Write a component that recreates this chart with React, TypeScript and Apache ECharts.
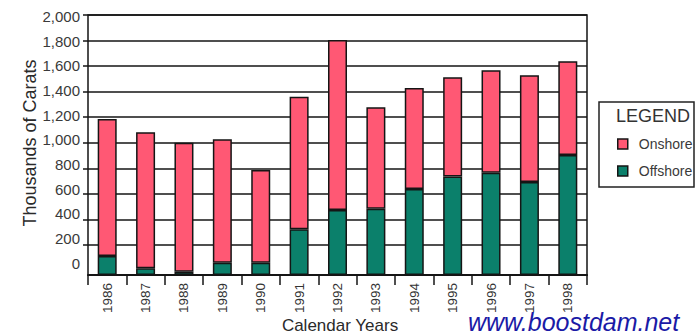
import React, { useEffect, useRef } from "react";
import * as echarts from "echarts";

const years = ["1986", "1987", "1988", "1989", "1990", "1991", "1992", "1993", "1994", "1995", "1996", "1997", "1998"];
const offshore = [149, 52, 26, 96, 96, 358, 509, 519, 673, 770, 801, 728, 939];
const onshore = [1072, 1065, 1010, 966, 726, 1038, 1330, 794, 791, 777, 801, 835, 734];
const yTickLabels = [0, 200, 400, 600, 800, 1000, 1200, 1400, 1600, 1800, 2000];

const SANS = "'Liberation Sans', Arial, sans-serif";
const PINK = "#ff5874";
const TEAL = "#0b806b";
const INK = "#151515";

export default function App() {
  const ref = useRef<HTMLDivElement>(null);

  useEffect(() => {
    if (!ref.current) return;
    const chart = echarts.init(ref.current, null, { renderer: "svg" });
    const step = yTickLabels[1] - yTickLabels[0];
    const yMax = yTickLabels[yTickLabels.length - 1];
    const gridX = { left: 88, right: 111 };

    chart.setOption({
      animation: false,
      backgroundColor: "#ffffff",
      grid: [
        // bars
        { ...gridX, top: 15, bottom: 60, show: true, borderColor: INK, borderWidth: 1.5, backgroundColor: "transparent" },
        // gridlines
        { ...gridX, top: 15, bottom: 90 },
        // labels
        { ...gridX, top: 16.7, bottom: 72 },
      ],
      xAxis: [
        {
          type: "category",
          gridIndex: 0,
          data: years,
          axisLine: { lineStyle: { color: INK, width: 2 } },
          axisTick: { show: true, length: 10, lineStyle: { color: INK, width: 1.5 } },
          axisLabel: { rotate: 90, margin: 8, fontSize: 13.5, fontFamily: SANS, color: "#333" },
        },
        { type: "category", gridIndex: 1, data: years, show: false },
        { type: "category", gridIndex: 2, data: years, show: false },
      ],
      yAxis: [
        {
          type: "value",
          gridIndex: 0,
          min: 0,
          max: yMax + 35,
          show: false,
          splitLine: { show: false },
        },
        {
          type: "value",
          gridIndex: 1,
          min: step,
          max: yMax,
          interval: step,
          axisLine: { show: false },
          axisTick: { show: true, length: 5, lineStyle: { color: INK, width: 1.5 } },
          axisLabel: { show: false },
          splitLine: { show: true, lineStyle: { color: INK, width: 1.5 } },
        },
        {
          type: "value",
          gridIndex: 2,
          min: 0,
          max: yMax,
          interval: step,
          axisLine: { show: false },
          axisTick: { show: false },
          splitLine: { show: false },
          axisLabel: {
            margin: 8,
            fontSize: 15,
            fontFamily: SANS,
            color: "#3a3a3a",
            formatter: (v: number) => v.toLocaleString("en-US"),
          },
        },
      ],
      legend: {
        orient: "vertical",
        left: 612,
        top: 132,
        itemWidth: 10,
        itemHeight: 10,
        itemGap: 13,
        icon: "rect",
        data: ["Onshore", "Offshore"],
        itemStyle: { borderColor: INK, borderWidth: 1.5 },
        textStyle: { fontSize: 14, fontFamily: SANS, color: "#3a3a3a", padding: [0, 0, 0, 6] },
      },
      series: [
        {
          name: "Offshore",
          type: "bar",
          stack: "total",
          xAxisIndex: 0,
          yAxisIndex: 0,
          barWidth: 19,
          data: offshore,
          itemStyle: { color: TEAL, borderColor: INK, borderWidth: 1.5 },
        },
        {
          name: "Onshore",
          type: "bar",
          stack: "total",
          xAxisIndex: 0,
          yAxisIndex: 0,
          barWidth: 19,
          data: onshore,
          itemStyle: { color: PINK, borderColor: INK, borderWidth: 1.5 },
        },
      ],
      graphic: [
        {
          type: "rect",
          shape: { x: 599, y: 102, width: 95, height: 85 },
          style: { fill: "transparent", stroke: "#222", lineWidth: 1.5 },
        },
        {
          type: "text",
          x: 653,
          y: 115.5,
          style: { text: "LEGEND", fontSize: 18, fontFamily: SANS, fill: "#333", align: "center", verticalAlign: "middle" },
        },
        {
          type: "text",
          x: 30,
          y: 143,
          rotation: Math.PI / 2,
          style: { text: "Thousands of Carats", fontSize: 18, fontFamily: SANS, fill: "#2a2a2a", align: "center", verticalAlign: "middle" },
        },
        {
          type: "text",
          x: 340,
          y: 325,
          style: { text: "Calendar Years", fontSize: 17, fontFamily: SANS, fill: "#2a2a2a", align: "center", verticalAlign: "middle" },
        },
        {
          type: "text",
          x: 468,
          y: 322,
          style: { text: "www.boostdam.net", fontSize: 25, fontStyle: "italic", fontFamily: SANS, fill: "#1a1aa6", align: "left", verticalAlign: "middle" },
        },
      ],
    });

    return () => chart.dispose();
  }, []);

  return (
    <div
      ref={ref}
      style={{ position: "fixed", left: 0, top: 0, width: 698, height: 335, background: "#fff" }}
    />
  );
}
